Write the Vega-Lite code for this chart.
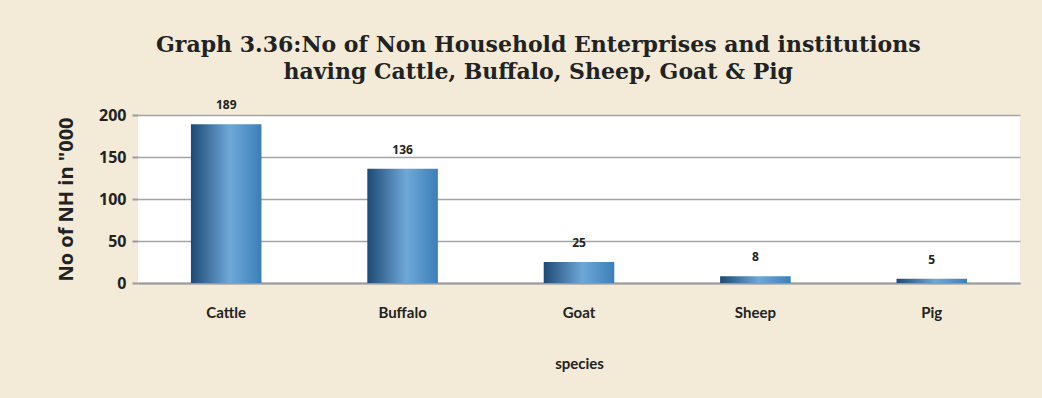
{
  "$schema": "https://vega.github.io/schema/vega-lite/v6.json",
  "autosize": "none",
  "width": 882,
  "height": 168,
  "padding": {"left": 138, "top": 115, "right": 22, "bottom": 115},
  "background": "#f3ebd8",
  "title": {
    "text": ["Graph 3.36:No of Non Household Enterprises and institutions", "having Cattle, Buffalo, Sheep, Goat & Pig"],
    "font": "DejaVu Serif",
    "fontSize": 22,
    "fontWeight": "bold",
    "color": "#222222",
    "anchor": "middle",
    "frame": "bounds",
    "offset": 15,
    "lineHeight": 27
  },
  "data": {
    "values": [
      {"species": "Cattle", "value": 189},
      {"species": "Buffalo", "value": 136},
      {"species": "Goat", "value": 25},
      {"species": "Sheep", "value": 8},
      {"species": "Pig", "value": 5}
    ]
  },
  "encoding": {
    "x": {
      "field": "species", "type": "nominal", "sort": null,
      "scale": {"paddingInner": 0.6, "paddingOuter": 0.3},
      "axis": {
        "title": "species", "labelAngle": 0, "labelPadding": 22, "titlePadding": 36,
        "labelFont": "Lato", "labelFontSize": 15, "labelFontWeight": "bold", "labelColor": "#222",
        "titleFont": "Lato", "titleFontSize": 15, "titleFontWeight": "bold", "titleColor": "#222",
        "domainColor": "#9a9a9a", "domainWidth": 2, "ticks": false
      }
    },
    "y": {
      "field": "value", "type": "quantitative",
      "scale": {"domain": [0, 200]},
      "axis": {
        "title": "No of NH in \"000", "values": [0, 50, 100, 150, 200],
        "labelFont": "Open Sans", "labelFontSize": 16, "labelFontWeight": "bold", "labelColor": "#222",
        "titleFont": "Open Sans", "titleFontSize": 20, "titleFontWeight": "bold", "titleColor": "#222",
        "titlePadding": 22, "labelPadding": 6,
        "gridColor": "#a5a5a5", "gridWidth": 1.5, "domain": false,
        "tickColor": "#9a9a9a", "tickSize": 6, "tickWidth": 2
      }
    }
  },
  "layer": [
    {
      "mark": {
        "type": "bar",
        "color": {
          "gradient": "linear", "x1": 0, "x2": 1, "y1": 0, "y2": 0,
          "stops": [
            {"offset": 0, "color": "#1d4a75"},
            {"offset": 0.55, "color": "#6fa8d8"},
            {"offset": 1, "color": "#3b7fb9"}
          ]
        }
      }
    },
    {
      "mark": {"type": "text", "baseline": "bottom", "dy": -12, "font": "Open Sans", "fontSize": 12, "fontWeight": "bold", "color": "#222"},
      "encoding": {"text": {"field": "value", "type": "quantitative"}}
    }
  ],
  "config": {
    "view": {"fill": "white", "stroke": null}
  }
}
